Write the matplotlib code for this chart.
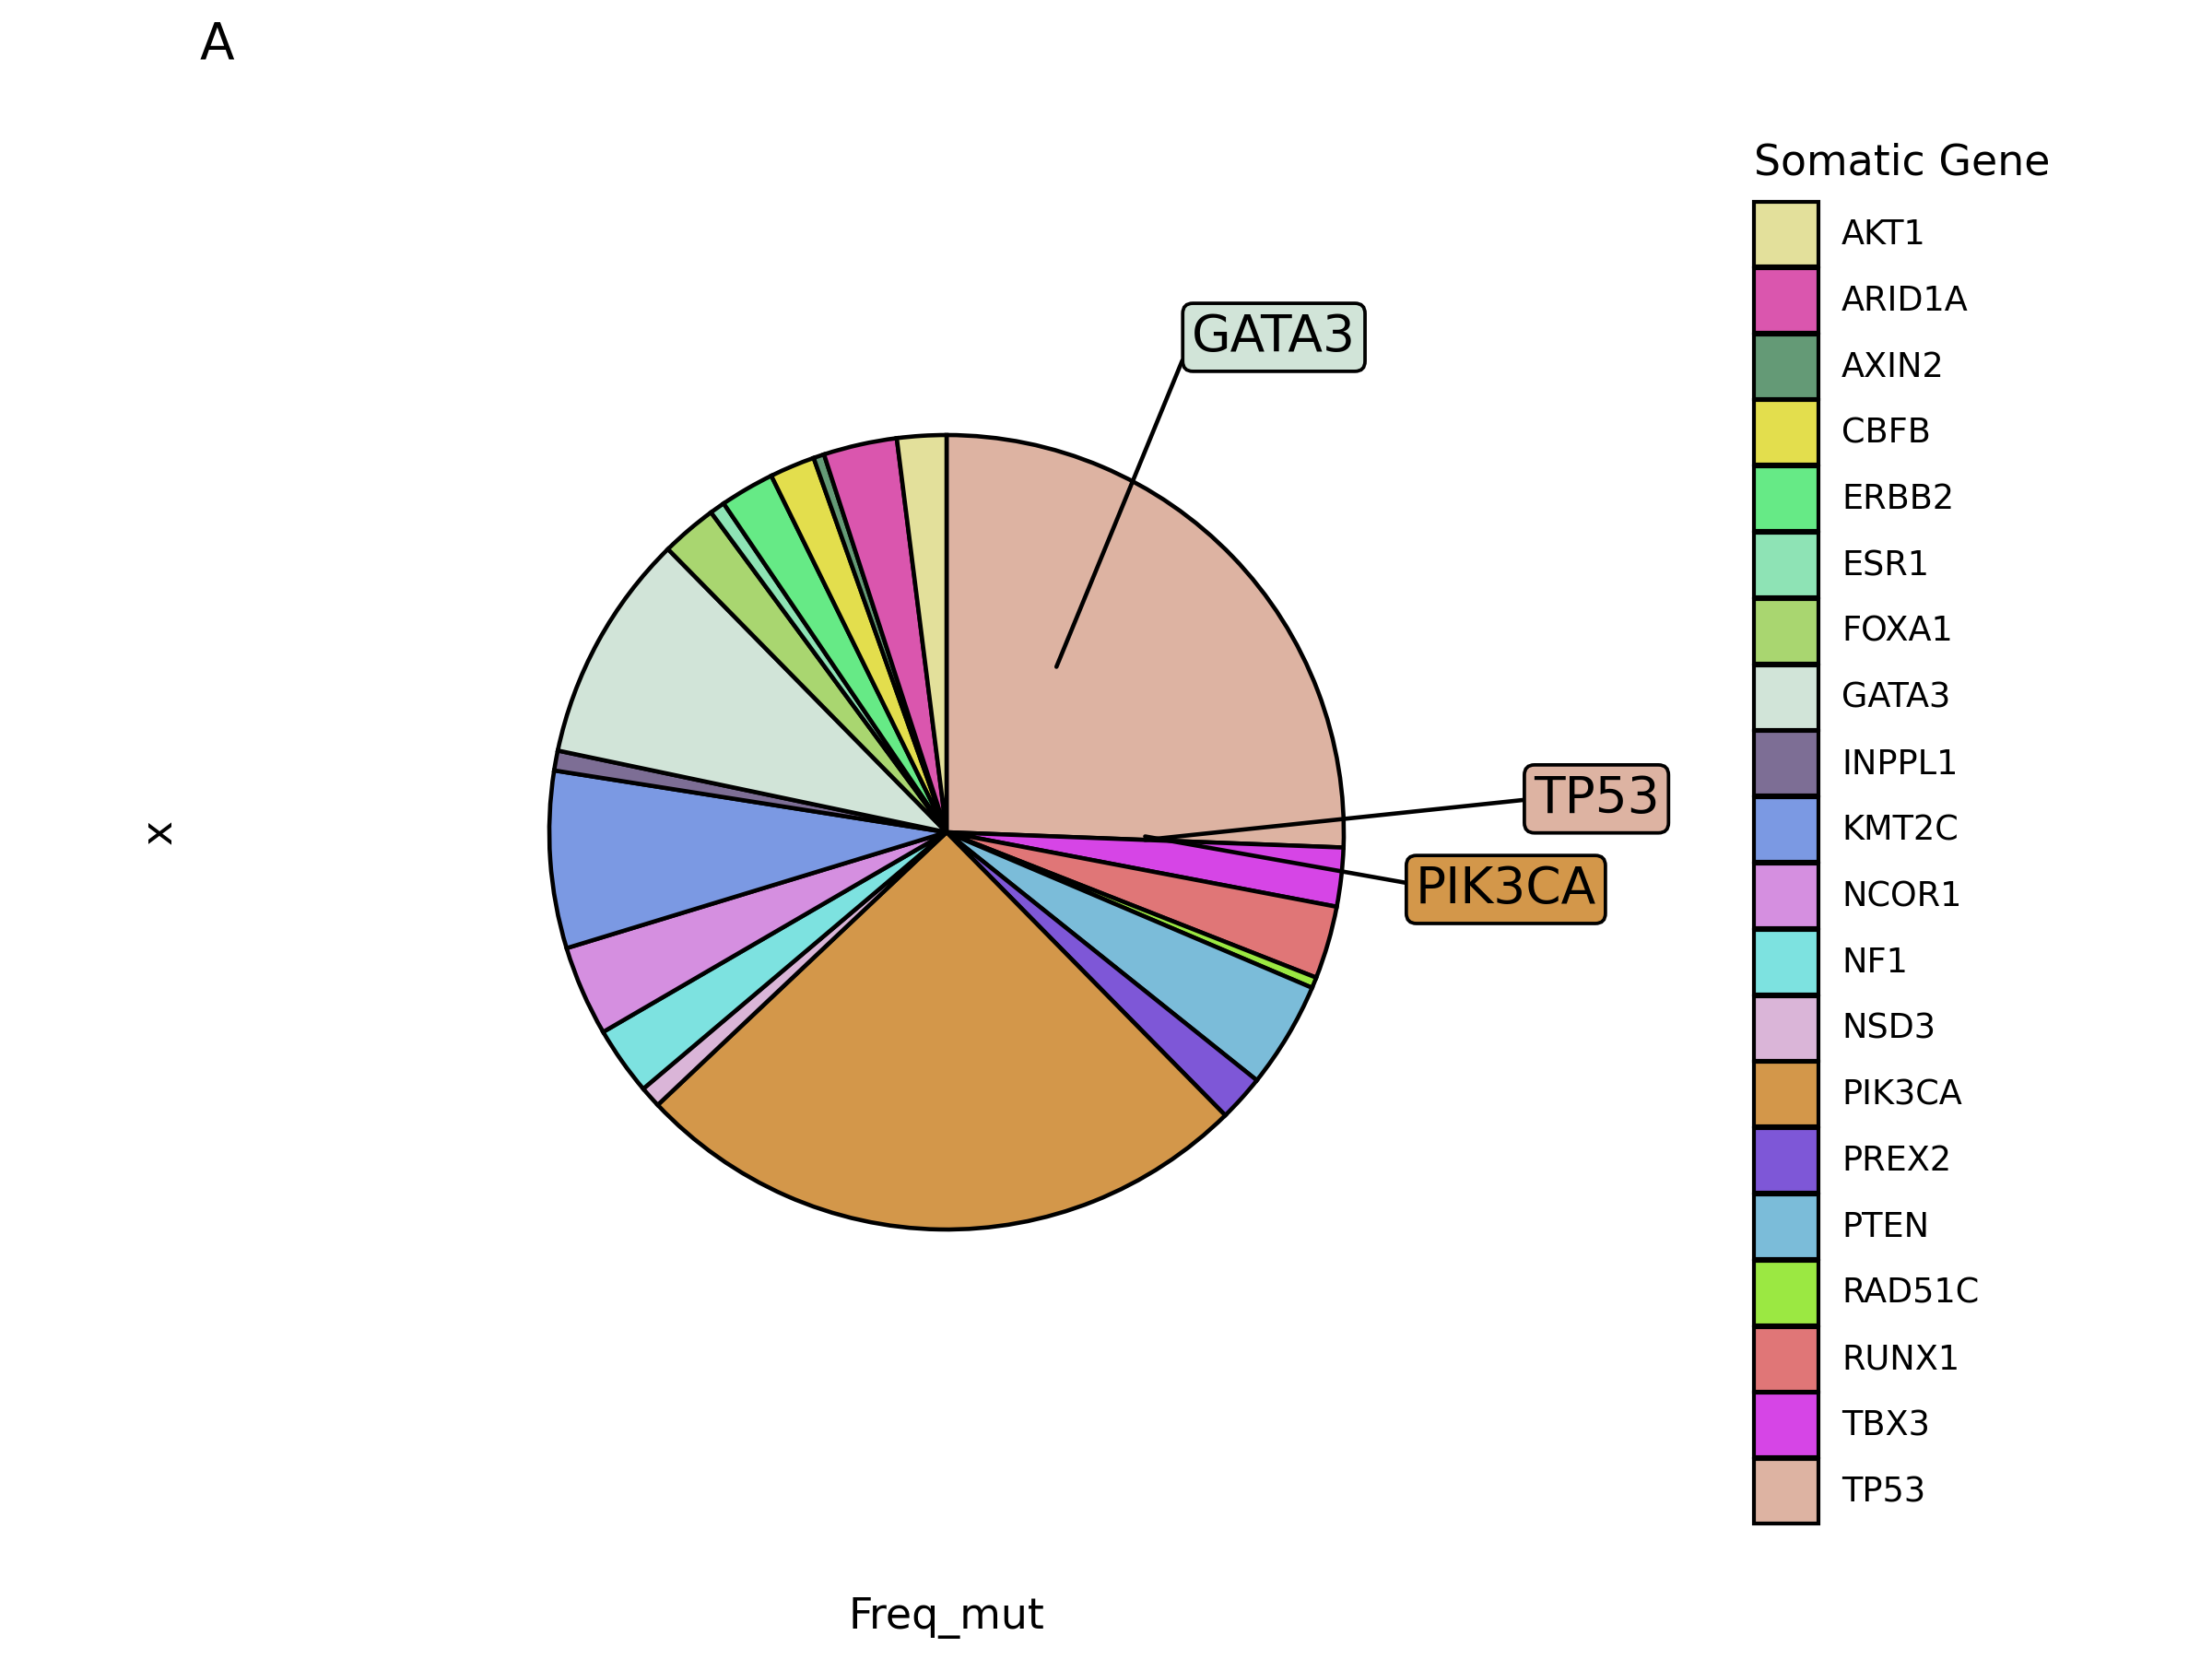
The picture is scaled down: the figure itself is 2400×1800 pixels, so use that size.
import numpy as np
import pandas as pd
from pandas import DataFrame
import matplotlib

matplotlib.use("Agg")
import matplotlib.pyplot as plt
from matplotlib.patches import Patch

plt.rcParams["font.family"] = ["DejaVu Sans"]

genes = [
    "AKT1", "ARID1A", "AXIN2", "CBFB", "ERBB2", "ESR1", "FOXA1", "GATA3",
    "INPPL1", "KMT2C", "NCOR1", "NF1", "NSD3", "PIK3CA", "PREX2", "PTEN",
    "RAD51C", "RUNX1", "TBX3", "TP53",
]
freq_mut = [
    2.00, 2.99, 0.44, 1.84, 2.21, 0.62, 2.27, 9.33,
    0.81, 7.20, 3.67, 2.79, 0.87, 25.33, 1.89, 4.33,
    0.44, 2.96, 2.39, 25.61,
]
gene_colors = [
    "#E3E09B", "#DA56AE", "#649A76", "#E3DE4D", "#66EA86", "#8EE3B5",
    "#A9D670", "#D1E4D8", "#7D6E95", "#7B99E3", "#D58FE0", "#7DE2E0",
    "#DAB5D8", "#D3974A", "#7E57D7", "#7BBCD9", "#9BE842", "#E07677",
    "#D645E6", "#DDB3A2",
]

# where the repelled labels ended up (pie radius units, centre = 0,0)
label_boxes = {
    "GATA3": (0.824, 1.246),
    "TP53": (1.636, 0.084),
    "PIK3CA": (1.408, -0.144),
}
# point on the box the segment attaches to
label_relpos = {
    "GATA3": (0.0, 0.5),
    "TP53": (0.0, 0.5),
    "PIK3CA": (0.0, 0.6),
}

W, H = 2400, 1800
CX, CY, R = 1027, 903, 431
LIM = 2.0


def make_frame() -> DataFrame:
    df = pd.DataFrame({"gene": genes, "Freq_mut": freq_mut, "color": gene_colors})
    return df


def pie_plot(df: DataFrame):
    fig = plt.figure(figsize=(8, 6), dpi=300)
    side = 2 * LIM * R
    ax = fig.add_axes([
        (CX - LIM * R) / W,
        (H - CY - LIM * R) / H,
        side / W,
        side / H,
    ])

    # ggplot stacks levels so they run clockwise in reverse order
    df_pie = df.iloc[::-1]
    ax.pie(
        df_pie["Freq_mut"],
        colors=df_pie["color"],
        startangle=90,
        counterclock=False,
        radius=1,
        wedgeprops=dict(edgecolor="black", linewidth=1.1),
    )
    ax.set_xlim(-LIM, LIM)
    ax.set_ylim(-LIM, LIM)
    ax.set_aspect("equal")
    ax.axis("off")

    total = df["Freq_mut"].sum()
    top = df.sort_values("Freq_mut", ascending=False).head(3)
    for _, row in top.iterrows():
        theta = np.deg2rad(row["Freq_mut"] / total * 360)
        xy = (0.5 * np.sin(theta), 0.5 * np.cos(theta))
        ax.annotate(
            row["gene"],
            xy=xy,
            xytext=label_boxes[row["gene"]],
            ha="center",
            va="center",
            fontsize=13.2,
            bbox=dict(
                boxstyle="round,pad=0.18,rounding_size=0.2",
                fc=row["color"],
                ec="black",
                lw=0.9,
            ),
            arrowprops=dict(
                arrowstyle="-", color="black", lw=1.1,
                shrinkA=0, shrinkB=0, relpos=label_relpos[row["gene"]],
            ),
        )

    fig.text(217 / W, 1 - 63 / H, "A", fontsize=13.2, ha="left", va="baseline")
    fig.text(173 / W, 1 - 902 / H, "x", fontsize=11, rotation=90,
             ha="center", va="center")
    fig.text(CX / W, 1 - 1767 / H, "Freq_mut", fontsize=11,
             ha="center", va="baseline")

    handles = [
        Patch(facecolor=c, edgecolor="black", linewidth=1.0)
        for c in df["color"]
    ]
    fs = 8.8
    fs_px = fs * 300 / 72
    key_px = 70
    # legend draws the patch at fs*h - 0.35*fs*(h - 0.7) pixels tall
    hh = (key_px / fs_px - 0.245) / 0.65
    fig.legend(
        handles,
        df["gene"],
        loc="upper left",
        bbox_to_anchor=(1903 / W, 1 - 219 / H),
        frameon=False,
        fontsize=fs,
        handlelength=key_px / fs_px,
        handleheight=hh,
        labelspacing=1.8 / fs_px,
        handletextpad=25 / fs_px,
        borderpad=0,
        borderaxespad=0,
    )
    fig.text(1903 / W, 1 - 190 / H, "Somatic Gene", fontsize=11,
             ha="left", va="baseline")

    plt.savefig("out.png", dpi=300)


def main():
    df = make_frame()
    pie_plot(df)


if __name__ == "__main__":
    main()
